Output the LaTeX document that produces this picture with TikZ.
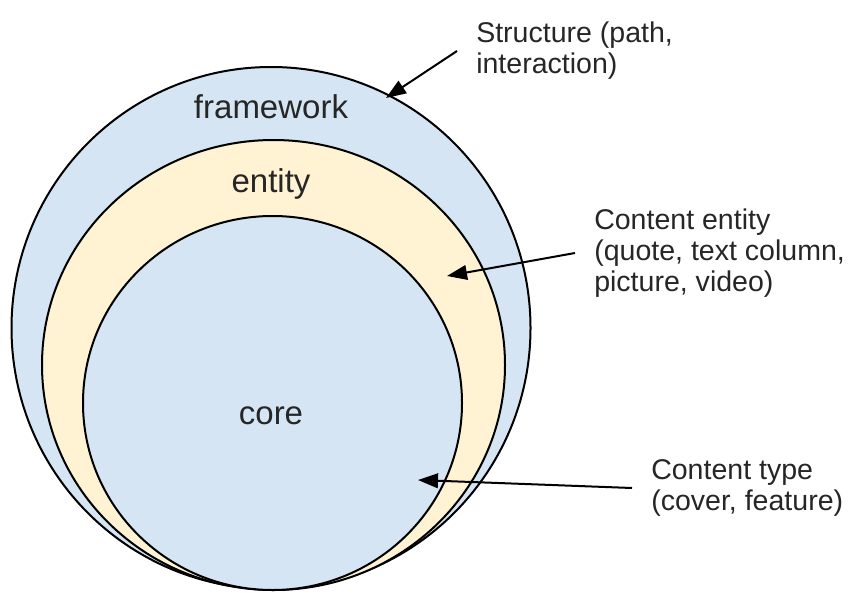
\documentclass[tikz,border=0pt]{standalone}
\usepackage{fontspec}
\setmainfont{Liberation Sans}
\usetikzlibrary{arrows.meta}
\definecolor{ringblue}{RGB}{214,229,244}
\definecolor{ringyellow}{RGB}{255,243,212}
\tikzset{
  ring/.style={draw=black, line width=1.5pt},
  ringlabel/.style={font=\fontsize{24.75}{28}\selectfont, text=black!85, anchor=base},
  note/.style={font=\fontsize{21.4}{23.25}\selectfont, text=black!85, align=left,
    anchor=west, inner xsep=14.25pt, inner ysep=0pt},
  pointer/.style={line width=1.5pt, -{Triangle[length=15pt,width=11pt]}}
}
\begin{document}
\begin{tikzpicture}[x=0.75pt,y=-0.75pt]
\useasboundingbox (0,0) rectangle (848,592);
\fill[white] (0,0) rectangle (848,592);
% the three nested rings
\draw[ring, fill=ringblue] (271,328) ellipse (259.5 and 261);
\draw[ring, fill=ringyellow] (273.5,365) ellipse (231.5 and 225);
\draw[ring, fill=ringblue] (272.5,403) ellipse (189.5 and 187);
\node[ringlabel] (frame) at (271,118) {framework};
\node[ringlabel] (entity) at (271,192) {entity};
\node[ringlabel] (core) at (271,424) {core};
% notes on the right
\node[note] (n1) at (457,51) {Structure (path,\\interaction)};
\node[note] (n2) at (575,253) {Content entity\\(quote, text column,\\picture, video)};
\node[note] (n3) at (632,488) {Content type\\(cover, feature)};
\coordinate (t1) at (386,98);
\coordinate (t2) at (447,276);
\coordinate (t3) at (418,480);
\draw[pointer] (n1.west) -- (t1);
\draw[pointer] (n2.west) -- (t2);
\draw[pointer] (n3.west) -- (t3);
\end{tikzpicture}
\end{document}
